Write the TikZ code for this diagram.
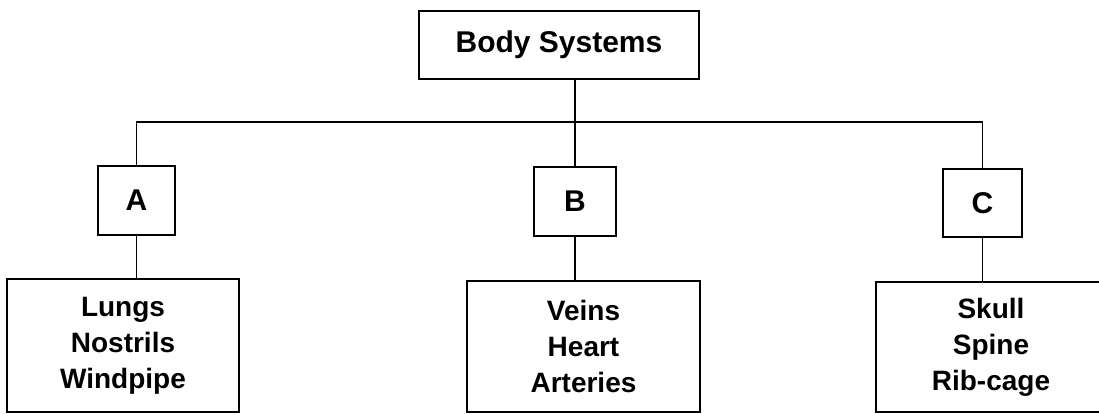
\documentclass[tikz,border=0pt]{standalone}
\usepackage{fontspec}
\setmainfont{Liberation Sans}
\begin{document}
\begin{tikzpicture}[x=1pt,y=-1pt,
  box/.style={draw,line width=1.6pt,inner sep=0pt,align=center,font=\bfseries\fontsize{28}{36}\selectfont},
  conn/.style={line width=1.6pt}]
\useasboundingbox (0,0) rectangle (1099,414);
\node[box,minimum width=280pt,minimum height=68pt,font=\bfseries\fontsize{30}{36}\selectfont] (top) at (559,45) {Body Systems};
\node[box,minimum width=77pt,minimum height=69pt,font=\bfseries\fontsize{30}{36}\selectfont] (A) at (136.5,200.5) {A};
\node[box,minimum width=82pt,minimum height=69pt,font=\bfseries\fontsize{30}{36}\selectfont] (B) at (575,201.5) {B};
\node[box,minimum width=79pt,minimum height=68pt,font=\bfseries\fontsize{30}{36}\selectfont] (C) at (982.5,203) {C};
\node[box,minimum width=232pt,minimum height=133pt] (L) at (123,345.5) {Lungs\\Nostrils\\Windpipe};
\node[box,minimum width=233pt,minimum height=131pt] (M) at (583.5,346.5) {Veins\\Heart\\Arteries};
\node[box,minimum width=230pt,minimum height=130pt] (R) at (991,347) {Skull\\Spine\\Rib-cage};
\coordinate (bus) at (575,122);
\draw[conn] (top.south -| B.north) -- (B.north);
\draw[conn] (A.north) |- (bus) -| (C.north);
\draw[conn] (A.south) -- (A.south |- L.north);
\draw[conn] (B.south) -- (B.south |- M.north);
\draw[conn] (C.south) -- (C.south |- R.north);
\end{tikzpicture}
\end{document}
